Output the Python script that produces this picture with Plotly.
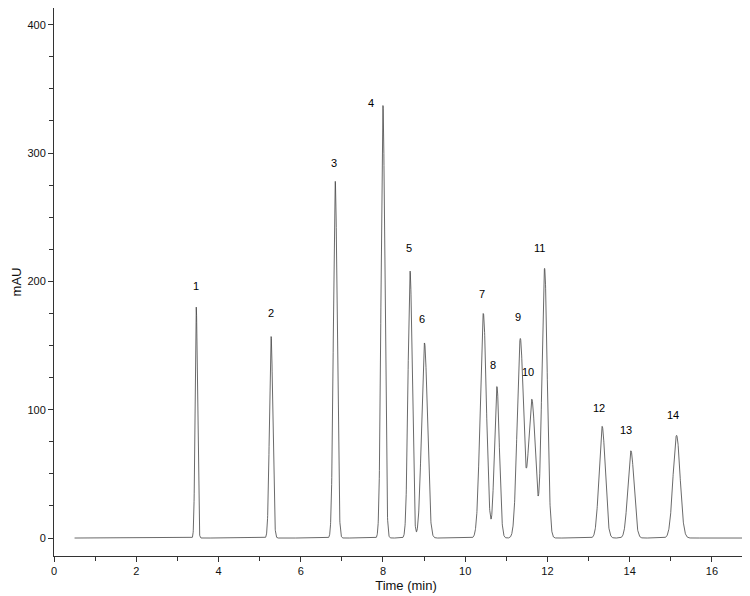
import numpy as np
import plotly.graph_objects as go

# peak table
peak_id = ["1", "2", "3", "4", "5", "6", "7", "8", "9", "10", "11", "12", "13", "14"]
peak_rt = [3.46, 5.28, 6.84, 8.00, 8.66, 9.01, 10.44, 10.77, 11.34, 11.62, 11.93, 13.33, 14.03, 15.14]
peak_h = [180, 157, 278, 337, 208, 152, 175, 118, 155, 108, 210, 87, 68, 80]
peak_w = [0.028, 0.04, 0.045, 0.045, 0.05, 0.07, 0.075, 0.06, 0.075, 0.085, 0.065, 0.075, 0.075, 0.085]
label_x = [3.45, 5.27, 6.82, 7.72, 8.63, 8.95, 10.41, 10.68, 11.29, 11.53, 11.80, 13.26, 13.92, 15.06]
label_y = [196, 175, 292, 339, 226, 171, 190, 135, 172, 129, 226, 101, 84, 96]

t = np.linspace(0.5, 17.2, 6000)
signal = np.zeros_like(t)
for rt, h, w in zip(peak_rt, peak_h, peak_w):
    signal += h * np.exp(-0.5 * ((t - rt) / w) ** 2)

fig = go.Figure()
fig.add_trace(go.Scatter(x=t, y=signal, mode="lines",
                         line=dict(color="#444", width=0.8), hoverinfo="skip"))

for lab, x, y in zip(peak_id, label_x, label_y):
    fig.add_annotation(x=x, y=y, text=lab, showarrow=False,
                       font=dict(size=11, color="#000"))

fig.update_layout(
    width=750, height=596,
    margin=dict(l=46, r=0, t=0, b=48),
    paper_bgcolor="white", plot_bgcolor="white",
    showlegend=False,
    font=dict(family="Liberation Sans, Arial", size=11, color="#111"),
)
fig.update_xaxes(range=[0, 17.12], showline=True, linecolor="#333", linewidth=1,
                 ticks="outside", tickcolor="#333", ticklen=5, dtick=2,
                 minor=dict(ticks="outside", dtick=1, ticklen=4, tickcolor="#333"),
                 showgrid=False, zeroline=False, automargin=False,
                 title=dict(text="Time (min)", standoff=4))
fig.update_yaxes(range=[-14, 413], showline=True, linecolor="#333", linewidth=1,
                 ticks="outside", tickcolor="#333", ticklen=5, dtick=100,
                 minor=dict(ticks="outside", dtick=25, ticklen=4, tickcolor="#333"),
                 showgrid=False, zeroline=False, automargin=False,
                 title=dict(text="mAU", standoff=2))

fig.write_html("out.html")
